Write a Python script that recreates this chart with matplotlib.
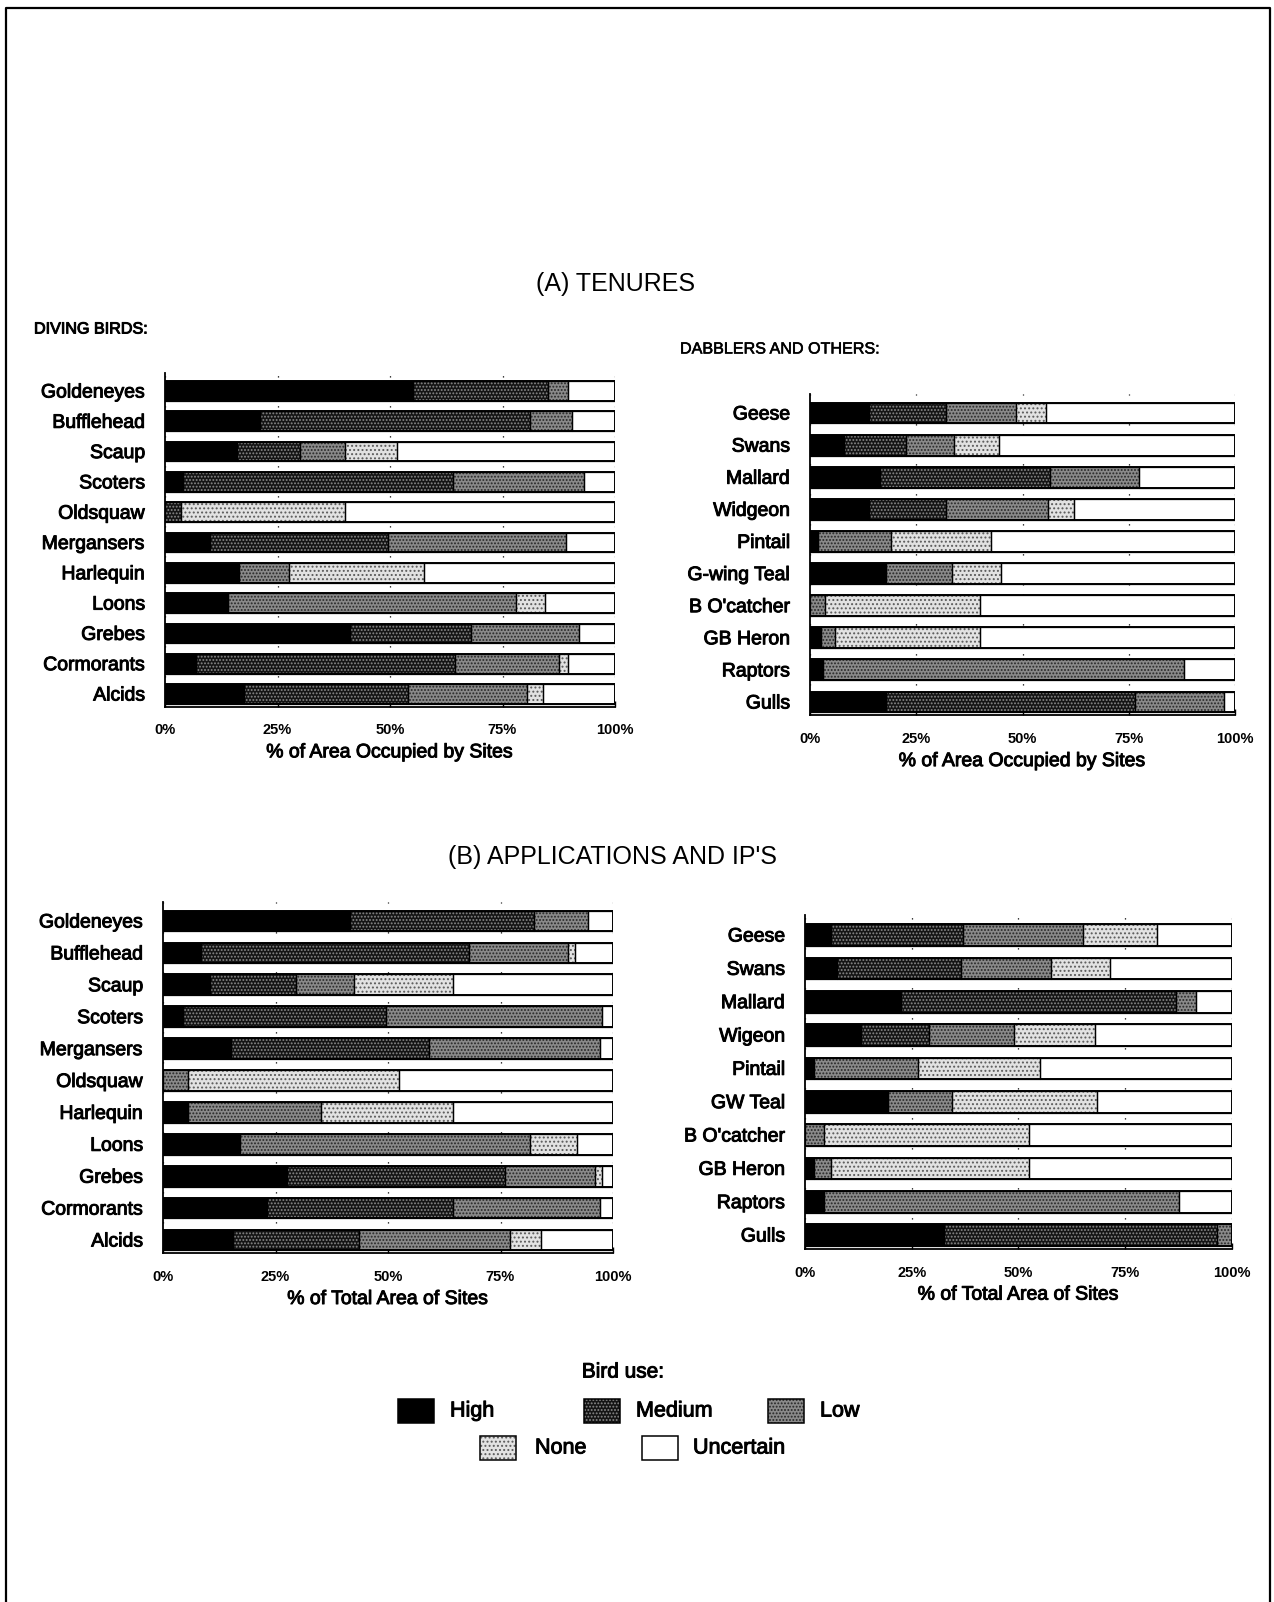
import numpy as np
import matplotlib
matplotlib.use('Agg')
import matplotlib.pyplot as plt
import matplotlib.patheffects as pe
from matplotlib.patches import Rectangle

plt.rcParams['font.family'] = ['Liberation Sans', 'DejaVu Sans']
plt.rcParams['hatch.linewidth'] = 0.9

W, H = 1274, 1602
HEAVY = [pe.withStroke(linewidth=0.7, foreground='black')]

LEVELS = ['High', 'Medium', 'Low', 'None', 'Uncertain']
# face colour, hatch, hatch colour for each bird-use level
STYLES = {
    'High':      ('#000000', None,    '#000000'),
    'Medium':    ('#141414', '.....', '#8a8a8a'),
    'Low':       ('#8a8a8a', '.....', '#262626'),
    'None':      ('#e2e2e2', '....',  '#5a5a5a'),
    'Uncertain': ('#ffffff', None,    '#ffffff'),
}

# --- (A) tenures: diving birds ---
diving_a_birds = ['Goldeneyes', 'Bufflehead', 'Scaup', 'Scoters', 'Oldsquaw',
                  'Mergansers', 'Harlequin', 'Loons', 'Grebes', 'Cormorants', 'Alcids']
diving_a_high = [55, 21, 16, 4, 0, 10, 16.5, 14, 41, 7, 17.5]
diving_a_medium = [30, 60, 14, 60, 3.5, 39.5, 0, 0, 27, 57.5, 36.5]
diving_a_low = [4.5, 9.5, 10, 29, 0, 39.5, 11, 64, 24, 23, 26.5]
diving_a_none = [0, 0, 11.5, 0, 36.5, 0, 30, 6.5, 0, 2, 3.5]
diving_a_uncertain = [10.5, 9.5, 48.5, 7, 60, 11, 42.5, 15.5, 8, 10.5, 16]

# --- (A) tenures: dabblers and others ---
dabblers_a_birds = ['Geese', 'Swans', 'Mallard', 'Widgeon', 'Pintail',
                    'G-wing Teal', "B O'catcher", 'GB Heron', 'Raptors', 'Gulls']
dabblers_a_high = [14, 8, 16.5, 14, 2, 18, 0, 2.5, 3, 18]
dabblers_a_medium = [18, 14.5, 40, 18, 0, 0, 0, 0, 0, 58.5]
dabblers_a_low = [16.5, 11.5, 21, 24, 17, 15.5, 3.5, 3.5, 85, 21]
dabblers_a_none = [7, 10.5, 0, 6, 23.5, 11.5, 36.5, 34, 0, 0]
dabblers_a_uncertain = [44.5, 55.5, 22.5, 38, 57.5, 55, 60, 60, 12, 2.5]

# --- (B) applications and IP's: diving birds ---
diving_b_birds = ['Goldeneyes', 'Bufflehead', 'Scaup', 'Scoters', 'Mergansers',
                  'Oldsquaw', 'Harlequin', 'Loons', 'Grebes', 'Cormorants', 'Alcids']
diving_b_high = [41.5, 8.5, 10.5, 4.5, 15, 0, 5.5, 17, 27.5, 23, 15.5]
diving_b_medium = [41, 59.5, 19, 45, 44, 0, 0, 0, 48.5, 41.5, 28]
diving_b_low = [12, 22, 13, 48, 38, 5.5, 29.5, 64.5, 20, 32.5, 33.5]
diving_b_none = [0, 1.5, 22, 0, 0, 47, 29.5, 10.5, 1.5, 0, 7]
diving_b_uncertain = [5.5, 8.5, 35.5, 2.5, 3, 47.5, 35.5, 8, 2.5, 3, 16]

# --- (B) applications and IP's: dabblers and others ---
dabblers_b_birds = ['Geese', 'Swans', 'Mallard', 'Wigeon', 'Pintail',
                    'GW Teal', "B O'catcher", 'GB Heron', 'Raptors', 'Gulls']
dabblers_b_high = [6, 7.5, 22.5, 13, 2, 19.5, 0, 2, 4.5, 32.5]
dabblers_b_medium = [31, 29, 64.5, 16, 0, 0, 0, 0, 0, 64]
dabblers_b_low = [28, 21, 4.5, 20, 24.5, 15, 4.5, 4, 83, 3.5]
dabblers_b_none = [17.5, 14, 0, 19, 28.5, 34, 48, 46.5, 0, 0]
dabblers_b_uncertain = [17.5, 28.5, 8.5, 32, 45, 31.5, 47.5, 47.5, 12.5, 0]

BAR_H = 0.65


def stacked_panel(fig, box, birds, series, xlabel):
    """box = (x of 0%, x of 100%, centre of first bar, centre of last bar) in pixels."""
    x0, x1, yc0, yc1 = box
    n = len(birds)
    pitch = (yc1 - yc0) / (n - 1)
    top = yc0 - pitch * 0.6
    bot = yc1 + pitch * 0.42
    ax = fig.add_axes([x0 / W, 1 - bot / H, (x1 - x0) / W, (bot - top) / H])
    ax.set_xlim(0, 100)
    ax.set_ylim(n - 1 + 0.42, -0.6)

    y = np.arange(n)
    left = np.zeros(n)
    for level, vals in zip(LEVELS, series):
        vals = np.asarray(vals, dtype=float)
        face, hatch, hcol = STYLES[level]
        m = vals > 0
        ax.barh(y[m], vals[m], left=left[m], height=BAR_H, color=face,
                hatch=hatch, edgecolor=hcol, linewidth=0, zorder=2)
        ax.barh(y[m], vals[m], left=left[m], height=BAR_H, fill=False,
                edgecolor='black', linewidth=0.9, zorder=3)
        left += vals
    ax.barh(y, left, height=BAR_H, fill=False, edgecolor='black',
            linewidth=1.4, zorder=4)

    ax.set_yticks(y)
    ax.set_yticklabels(birds, fontsize=14)
    ax.tick_params(axis='y', length=0, pad=14)
    ax.set_xticks([0, 25, 50, 75, 100])
    ax.set_xticklabels(['0%', '25%', '50%', '75%', '100%'],
                       fontsize=10.5, fontweight='bold')
    ax.tick_params(axis='x', direction='in', length=4, width=1, pad=12)
    ax.set_xlabel(xlabel, fontsize=14, labelpad=5)
    for t in ax.get_yticklabels() + [ax.xaxis.label]:
        t.set_path_effects(HEAVY)

    ax.grid(axis='x', color='black', linewidth=0.9, linestyle=(0, (1, 7)))
    ax.set_axisbelow(True)
    for side in ('top', 'right'):
        ax.spines[side].set_visible(False)
    for side in ('left', 'bottom'):
        ax.spines[side].set_linewidth(1.3)
    return ax


fig = plt.figure(figsize=(W / 100, H / 100), dpi=100)
fig.patch.set_facecolor('white')

stacked_panel(fig, (165, 615, 391, 694), diving_a_birds,
              [diving_a_high, diving_a_medium, diving_a_low, diving_a_none, diving_a_uncertain],
              '% of Area Occupied by Sites')
stacked_panel(fig, (810, 1235, 413, 702), dabblers_a_birds,
              [dabblers_a_high, dabblers_a_medium, dabblers_a_low, dabblers_a_none, dabblers_a_uncertain],
              '% of Area Occupied by Sites')
stacked_panel(fig, (163, 613, 921, 1240), diving_b_birds,
              [diving_b_high, diving_b_medium, diving_b_low, diving_b_none, diving_b_uncertain],
              '% of Total Area of Sites')
stacked_panel(fig, (805, 1232, 935, 1235), dabblers_b_birds,
              [dabblers_b_high, dabblers_b_medium, dabblers_b_low, dabblers_b_none, dabblers_b_uncertain],
              '% of Total Area of Sites')

# page overlay in pixel coordinates: headings, legend, frame
page = fig.add_axes([0, 0, 1, 1], zorder=-1)
page.set_xlim(0, W)
page.set_ylim(H, 0)
page.axis('off')

page.plot([6, 6, 1270, 1270], [H, 8, 8, H], color='black', linewidth=1.6)

page.text(616, 284, '(A) TENURES', fontsize=18, ha='center', va='center')
page.text(612, 857, "(B) APPLICATIONS AND IP'S", fontsize=18, ha='center', va='center')
page.text(34, 329, 'DIVING BIRDS:', fontsize=11.6, ha='left', va='center',
          path_effects=HEAVY)
page.text(680, 349, 'DABBLERS AND OTHERS:', fontsize=11.6, ha='left', va='center',
          path_effects=[pe.withStroke(linewidth=0.4, foreground='black')])

page.text(623, 1372, 'Bird use:', fontsize=15, ha='center', va='center',
          path_effects=HEAVY)
legend_pos = {
    'High': (398, 1399, 450),
    'Medium': (584, 1399, 636),
    'Low': (768, 1399, 820),
    'None': (480, 1436, 535),
    'Uncertain': (642, 1436, 693),
}
for level in LEVELS:
    sx, sy, tx = legend_pos[level]
    face, hatch, hcol = STYLES[level]
    page.add_patch(Rectangle((sx, sy), 36, 24, facecolor=face, hatch=hatch,
                             edgecolor=hcol, linewidth=0))
    page.add_patch(Rectangle((sx, sy), 36, 24, fill=False, edgecolor='black', linewidth=1.1))
    page.text(tx, sy + 12, level, fontsize=15.5, ha='left', va='center',
              path_effects=HEAVY)

fig.savefig('out.png', dpi=100)
